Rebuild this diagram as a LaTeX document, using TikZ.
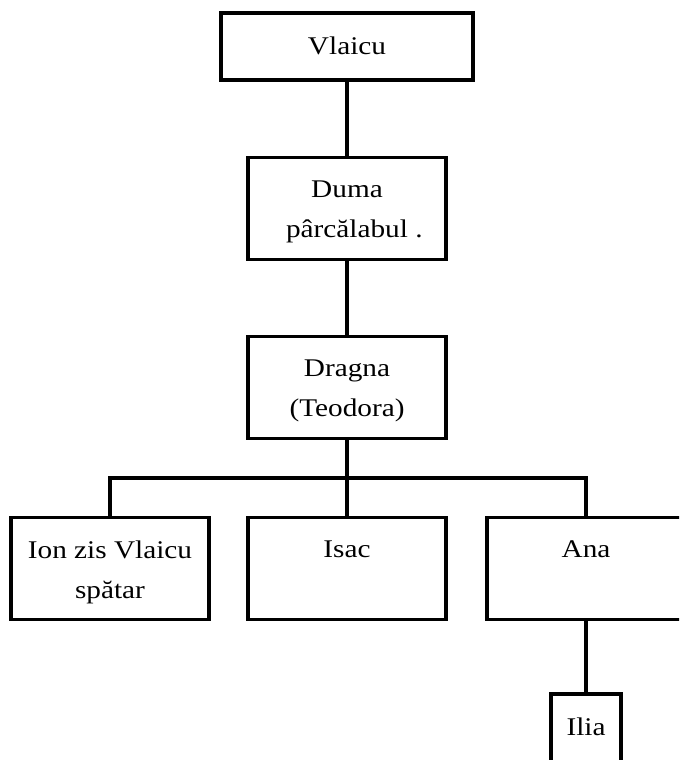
\documentclass[tikz,border=0pt]{standalone}
\usepackage{fontspec}
\setmainfont{Liberation Serif}[FakeStretch=1.15]
\usetikzlibrary{positioning}
\tikzset{
  person/.style={draw=black, line width=2.2pt, minimum width=4.95cm, minimum height=2.55cm, inner sep=0pt},
  nametext/.style={anchor=north, yshift=-0.62cm, align=center, inner sep=0pt,
    font=\fontsize{18.1}{28.4}\selectfont},
  link/.style={draw=black, line width=2.2pt}
}
\begin{document}
\begin{tikzpicture}[x=0.025cm, y=-0.025cm]
  \useasboundingbox (0,0) rectangle (679,760);
  \clip (0,0) rectangle (679,760);

  % generations
  \node[person, minimum width=6.3cm, minimum height=1.675cm,
        label={[nametext]north:Vlaicu}] (vlaicu) at (347,46.5) {};
  \node[person, label={[nametext]north:{Duma\\pârcălabul\rlap{ .}}}] (duma) at (347,208.5) {};
  \node[person, label={[nametext]north:{Dragna\\(Teodora)}}] (dragna) at (347,387.5) {};

  % children
  \node[person, label={[nametext]north:{Ion zis Vlaicu\\spătar}}] (ion) at (110,568.5) {};
  \node[person, label={[nametext]north:Isac}] (isac) at (347,568.5) {};
  \node[person, label={[nametext]north:Ana}] (ana) at (586,568.5) {};
  \node[person, minimum width=1.75cm, minimum height=2.5cm,
        label={[nametext]north:Ilia}] (ilia) at (586,744) {};

  \coordinate (bus) at (347,478);

  \draw[link] (vlaicu.south) -- (duma.north);
  \draw[link] (duma.south) -- (dragna.north);
  \draw[link] (dragna.south) -- (isac.north);
  \draw[link] (ion.north) |- (bus) -| (ana.north);
  \draw[link] (ana.south) -- (ilia.north);
\end{tikzpicture}
\end{document}
